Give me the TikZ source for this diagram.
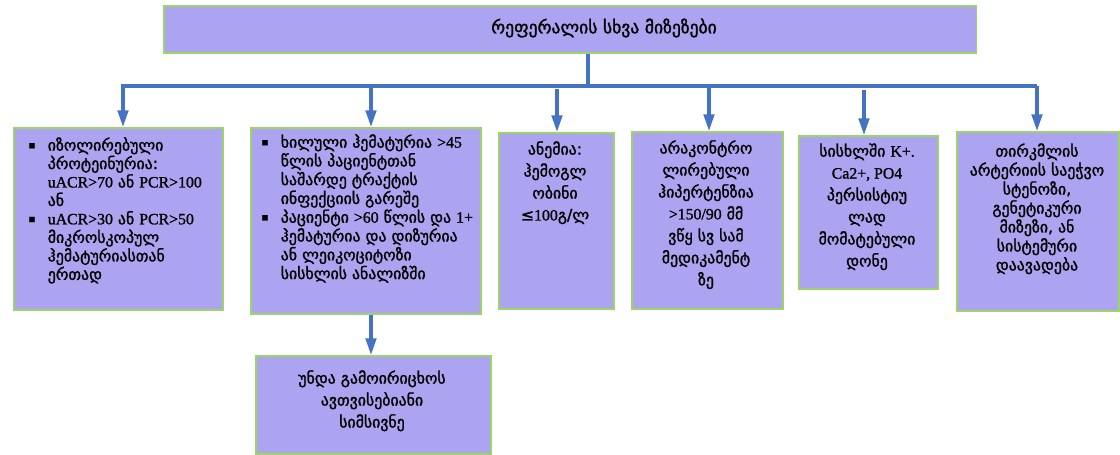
\documentclass[tikz,border=0pt]{standalone}
\usepackage{fontspec}
\setmainfont[FakeBold=1.4]{DejaVu Sans}
\newfontfamily\latnfont[FakeBold=1.2]{Liberation Serif}
\usetikzlibrary{arrows.meta}
\definecolor{boxfill}{HTML}{ACA4F0}
\definecolor{boxline}{HTML}{9DD46A}
\definecolor{linkblue}{HTML}{4472C4}
\newcommand{\latn}[1]{{\latnfont #1}}
\newcommand{\bul}{\raisebox{1.2pt}{\fontsize{6}{6}\selectfont ▪}}

\begin{document}
\begin{tikzpicture}[x=0.02cm, y=-0.02cm, font=\fontsize{9}{12.5}\selectfont,
  box/.style={draw=boxline, fill=boxfill, line width=0.9pt, inner sep=0pt, anchor=north west},
  txt/.style={inner sep=0pt, align=center, anchor=north},
  listtxt/.style={inner sep=0pt, anchor=north west},
  link/.style={draw=linkblue, line width=1.8pt},
  arr/.style={link, -{Triangle[width=6pt,length=9.5pt]}}]
\useasboundingbox (0,0) rectangle (1120,455);
%\node {\includegraphics{ref.png}};
\node[box, minimum width=16.26cm, minimum height=0.94cm] (top) at (163,5) {};
\node[inner sep=0pt, font=\fontsize{10}{12}\selectfont] (toptxt) at (604,28) {რეფერალის სხვა მიზეზები};
\node[box, minimum width=4.18cm, minimum height=3.64cm] (prot) at (13,127) {};
\node[box, minimum width=4.60cm, minimum height=3.72cm] (hemat) at (250,127) {};
\node[box, minimum width=2.30cm, minimum height=3.52cm] (anem) at (498,132) {};
\node[box, minimum width=3.02cm, minimum height=3.54cm] (htn) at (631,131) {};
\node[box, minimum width=2.78cm, minimum height=3.06cm] (elec) at (798,135) {};
\node[box, minimum width=3.24cm, minimum height=3.58cm] (renal) at (956,131) {};
\node[box, minimum width=4.70cm, minimum height=1.96cm] (tumor) at (255,355) {};
\node[listtxt, font=\fontsize{9}{10}\selectfont] (prottxt) at (28,137) {%
\begin{tabular}{@{}l@{\hskip 7pt}l@{}}
\bul & იზოლირებული\\
 & პროტეინურია:\\
 & \latn{uACR>70} ან \latn{PCR>100}\\
 & ან\\
\bul & \latn{uACR>30} ან \latn{PCR>50}\\
 & მიკროსკოპულ\\
 & ჰემატურიასთან\\
 & ერთად
\end{tabular}};
\node[listtxt, font=\fontsize{9}{10.5}\selectfont] (hemattxt) at (261,134) {%
\begin{tabular}{@{}l@{\hskip 7pt}l@{}}
\bul & ხილული ჰემატურია \latn{>45}\\
 & წლის პაციენტთან\\
 & საშარდე ტრაქტის\\
 & ინფექციის გარეშე\\
\bul & პაციენტი \latn{>60} წლის და \latn{1+}\\
 & ჰემატურია და დიზურია\\
 & ან ლეიკოციტოზი\\
 & სისხლის ანალიზში
\end{tabular}};
\node[txt] (anemtxt) at (555,141) {ანემია:\\ჰემოგლ\\ობინი\\≤\latn{100}გ/ლ};
\node[txt] (htntxt) at (706,140) {არაკონტრო\\ლირებული\\ჰიპერტენზია\\\latn{>150/90} მმ\\ვწყ სვ სამ\\მედიკამენტ\\ზე};
\node[txt] (electxt) at (867,143) {სისხლში \latn{K+.}\\\latn{Ca2+, PO4}\\პერსისტიუ\\ლად\\მომატებული\\დონე};
\node[txt, font=\fontsize{9}{10.8}\selectfont] (renaltxt) at (1037,143) {თირკმლის\\არტერიის საეჭვო\\სტენოზი,\\გენეტიკური\\მიზეზი, ან\\სისტემური\\დაავადება};
\node[txt] (tumortxt) at (372,370) {უნდა გამოირიცხოს\\ავთვისებიანი\\სიმსივნე};
% connectors
\coordinate (stem) at (588,86);
\coordinate (barL) at (123,86);
\coordinate (barR) at (1037,86);
\coordinate (a2) at (371,86);
\coordinate (a3) at (557,89);
\coordinate (a4) at (709,86);
\coordinate (a5) at (864,90);
\coordinate (a7) at (371,313);
\draw[link] (top.south -| stem) -- (stem);
\draw[arr] (barR) -- (barL) -- (barL |- prot.north);
\draw[arr] (barR) -- (barR |- renal.north);
\draw[arr] (a2) -- (a2 |- hemat.north);
\draw[arr] (a3) -- (a3 |- anem.north);
\draw[arr] (a4) -- (a4 |- htn.north);
\draw[arr] (a5) -- (a5 |- elec.north);
\draw[arr] (a7 |- hemat.south) -- (a7 |- tumor.north);
\end{tikzpicture}
\end{document}
